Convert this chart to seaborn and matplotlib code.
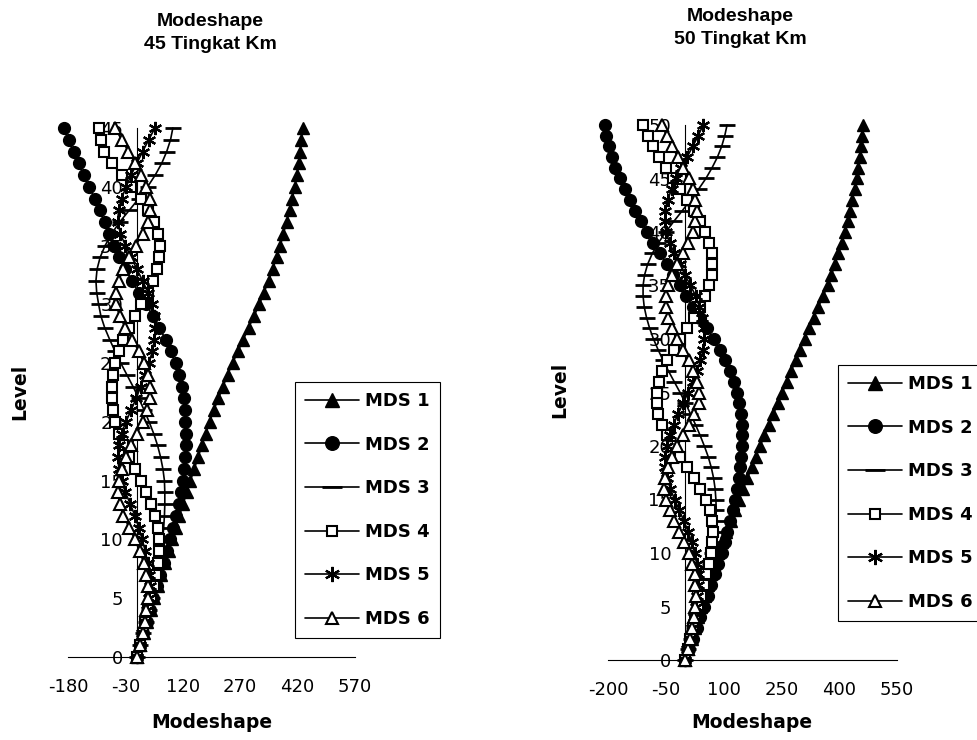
import matplotlib
matplotlib.use("Agg")
import matplotlib.pyplot as plt
import seaborn as sns
from matplotlib.lines import Line2D

# ---- data: mode shape ordinates per storey level ----
levels_45 = list(range(46))
levels_50 = list(range(51))

mode_names = ["MDS 1", "MDS 2", "MDS 3", "MDS 4", "MDS 5", "MDS 6"]

# 45-storey building
mds1_45 = [0, 9, 18, 27, 36, 45, 54, 64, 73, 83, 92, 102, 111, 121, 130, 140,
           150, 160, 170, 180, 190, 201, 213, 225, 237, 250, 264, 278, 292, 306,
           320, 332, 344, 355, 365, 375, 383, 391, 399, 406, 413, 418, 423, 427,
           430, 433]
mds2_45 = [0, 8, 17, 26, 35, 43, 52, 61, 70, 79, 87, 95, 102, 109, 115, 120,
           124, 127, 128, 128, 127, 125, 122, 117, 110, 101, 89, 75, 59, 42, 24,
           5, -13, -30, -46, -60, -72, -84, -96, -110, -125, -138, -152, -165,
           -178, -190]
mds3_45 = [0, 8, 16, 24, 32, 39, 46, 53, 58, 63, 67, 70, 72, 73, 73, 72, 68,
           62, 54, 44, 32, 19, 5, -10, -26, -42, -57, -71, -84, -94, -100, -105,
           -107, -104, -96, -83, -66, -45, -20, 5, 28, 48, 65, 78, 88, 94]
mds4_45 = [0, 7, 15, 22, 30, 37, 44, 50, 55, 58, 58, 54, 47, 37, 25, 10, -5,
           -20, -35, -47, -57, -63, -66, -66, -63, -57, -47, -35, -20, -5, 12,
           28, 42, 52, 58, 60, 55, 45, 30, 10, -15, -40, -65, -85, -95, -100]
mds5_45 = [0, 7, 14, 20, 26, 31, 33, 32, 28, 22, 14, 5, -5, -17, -30, -40,
           -47, -50, -47, -40, -29, -15, -2, 10, 22, 32, 40, 46, 48, 46, 40, 29,
           15, 0, -15, -30, -43, -50, -48, -40, -28, -15, 0, 15, 31, 47]
mds6_45 = [0, 8, 15, 21, 25, 28, 28, 25, 18, 7, -5, -20, -35, -45, -50, -48,
           -40, -28, -15, 0, 15, 27, 35, 35, 30, 18, 5, -12, -30, -45, -55, -55,
           -48, -35, -20, -3, 15, 28, 35, 33, 25, 12, -5, -22, -40, -57]

# 50-storey building
mds1_50 = [0, 8, 17, 25, 34, 42, 51, 59, 68, 76, 85, 96, 107, 118, 129, 140,
           151, 162, 173, 184, 195, 206, 218, 229, 241, 252, 264, 275, 287, 298,
           310, 322, 334, 346, 358, 370, 380, 389, 398, 407, 415, 422, 428, 434,
           440, 445, 449, 453, 457, 460, 463]
mds2_50 = [0, 10, 20, 30, 40, 50, 59, 68, 77, 86, 95, 103, 110, 117, 124, 130,
           135, 139, 143, 146, 148, 148, 147, 145, 141, 134, 126, 116, 104, 90,
           74, 57, 39, 21, 3, -14, -31, -48, -65, -82, -98, -114, -129, -143,
           -157, -170, -181, -190, -198, -204, -208]
mds3_50 = [0, 8, 16, 24, 32, 40, 47, 54, 60, 66, 71, 75, 78, 80, 81, 80, 78,
           74, 68, 60, 50, 39, 27, 14, 1, -13, -28, -43, -57, -70, -82, -92,
           -100, -106, -109, -109, -105, -97, -85, -69, -50, -29, -7, 14, 35,
           54, 70, 84, 95, 103, 109]
mds4_50 = [0, 7, 13, 20, 27, 34, 41, 48, 55, 62, 67, 71, 72, 70, 64, 54, 40,
           24, 6, -13, -31, -47, -60, -69, -73, -73, -68, -59, -46, -30, -12, 6,
           24, 40, 53, 63, 69, 71, 69, 63, 53, 40, 24, 6, -13, -32, -50, -67,
           -83, -97, -109]
mds5_50 = [0, 6, 12, 18, 24, 29, 32, 34, 34, 30, 25, 17, 8, -3, -15, -27, -38,
           -47, -52, -52, -48, -40, -30, -18, -5, 8, 20, 31, 40, 47, 50, 49, 45,
           37, 28, 14, 0, -14, -28, -40, -50, -53, -52, -45, -35, -23, -10, 5,
           20, 34, 47]
mds6_50 = [0, 7, 13, 18, 23, 26, 28, 27, 25, 18, 10, -2, -15, -28, -40, -49,
           -55, -52, -45, -33, -20, -5, 10, 24, 35, 35, 30, 21, 10, -5, -20, -33,
           -45, -50, -50, -44, -35, -20, -5, 8, 20, 27, 30, 27, 20, 9, -5, -18,
           -35, -48, -60]

xticks_45 = [-180, -30, 120, 270, 420, 570]
xticks_50 = [-200, -50, 100, 250, 400, 550]

sns.set_style("white")
plt.rcParams["font.family"] = ["DejaVu Sans"]
plt.rcParams["axes.edgecolor"] = "black"
plt.rcParams["axes.unicode_minus"] = False
plt.rcParams["text.color"] = "black"

marker_styles = [
    dict(marker="^", markersize=8.5, markerfacecolor="black", markeredgewidth=1.0),
    dict(marker="o", markersize=8.5, markerfacecolor="black", markeredgewidth=1.0),
    dict(marker="_", markersize=12, markerfacecolor="black", markeredgewidth=2.0),
    dict(marker="s", markersize=6.5, markerfacecolor="white", markeredgewidth=1.5),
    dict(marker=(6, 2, 0), markersize=9.5, markerfacecolor="black", markeredgewidth=1.6),
    dict(marker="^", markersize=8, markerfacecolor="white", markeredgewidth=1.5),
]


def draw_panel(ax, levels, series, xticks):
    for name, vals, st in zip(mode_names, series, marker_styles):
        sns.lineplot(x=vals, y=levels, orient="y", estimator=None, sort=True,
                     ax=ax, color="black", linewidth=1.2,
                     markeredgecolor="black", clip_on=False, legend=False,
                     zorder=3, **st)
    ax.set_xlim(xticks[0], xticks[-1])
    ax.set_ylim(0, levels[-1])
    ax.set_xticks(xticks)
    ax.set_yticks(list(range(0, levels[-1] + 1, 5)))
    ax.spines["left"].set_position(("data", 0))
    ax.spines["top"].set_visible(False)
    ax.spines["right"].set_visible(False)
    for sp in ("left", "bottom"):
        ax.spines[sp].set_linewidth(0.8)
        ax.spines[sp].set_color("black")
    ax.tick_params(axis="x", direction="inout", length=6, width=0.8, pad=12,
                   labelsize=13, colors="black")
    ax.tick_params(axis="y", direction="out", length=4, width=0.8, pad=6,
                   labelsize=13, colors="black")
    ax.set_xlabel("")
    ax.set_ylabel("")


fig = plt.figure(figsize=(9.78, 7.4), dpi=100)
W, H = 978.0, 740.0

ax1 = fig.add_axes([68 / W, 1 - 657 / H, (355 - 68) / W, (657 - 128) / H])
ax2 = fig.add_axes([608 / W, 1 - 660 / H, (897 - 608) / W, (660 - 125) / H])

draw_panel(ax1, levels_45,
           [mds1_45, mds2_45, mds3_45, mds4_45, mds5_45, mds6_45], xticks_45)
draw_panel(ax2, levels_50,
           [mds1_50, mds2_50, mds3_50, mds4_50, mds5_50, mds6_50], xticks_50)

# titles and axis captions
title_font = dict(family=["Liberation Sans", "DejaVu Sans"], weight="bold",
                  size=14, ha="center", va="center", linespacing=1.45,
                  color="black")
fig.text(210 / W, 1 - 33 / H, "Modeshape\n45 Tingkat Km", **title_font)
fig.text(740 / W, 1 - 28 / H, "Modeshape\n50 Tingkat Km", **title_font)

label_font = dict(weight="bold", size=13.5, ha="center", va="center",
                  color="black")
fig.text(212 / W, 1 - 722 / H, "Modeshape", **label_font)
fig.text(752 / W, 1 - 722 / H, "Modeshape", **label_font)
fig.text(20 / W, 1 - 392 / H, "Level", rotation=90, **label_font)
fig.text(560 / W, 1 - 390 / H, "Level", rotation=90, **label_font)

# legends
handles = [Line2D([], [], color="black", linewidth=1.2,
                  markeredgecolor="black", **st) for st in marker_styles]
legend_kw = dict(loc="upper left", bbox_transform=fig.transFigure,
                 frameon=True, fancybox=False, edgecolor="black",
                 framealpha=1, prop=dict(weight="bold", size=13),
                 handlelength=3.0, handletextpad=0.35, labelspacing=1.42,
                 borderpad=0.55, borderaxespad=0, markerscale=1.15)
leg1 = fig.legend(handles, mode_names, bbox_to_anchor=(295 / W, 1 - 382 / H),
                  **legend_kw)
leg2 = fig.legend(handles, mode_names, bbox_to_anchor=(838 / W, 1 - 365 / H),
                  **legend_kw)
for leg in (leg1, leg2):
    leg.get_frame().set_linewidth(0.8)
    for t in leg.get_texts():
        t.set_color("black")

fig.savefig("out.png", dpi=100)
